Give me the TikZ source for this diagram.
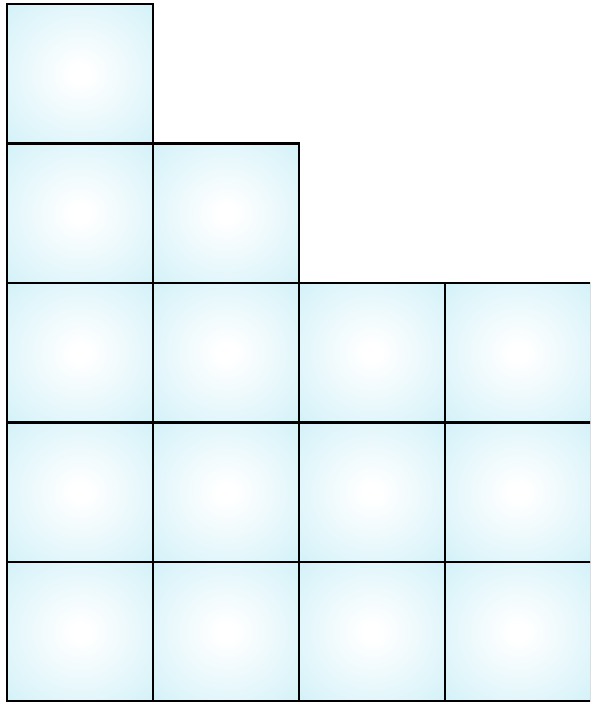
\documentclass[tikz,border=0pt]{standalone}
\definecolor{edgeblue}{RGB}{194,236,246}
\pgfdeclareradialshading{cellshade}{\pgfpoint{0bp}{0bp}}{color(0bp)=(white); color(3bp)=(white); color(48bp)=(edgeblue); color(80bp)=(edgeblue)}
\begin{document}
\begin{tikzpicture}[x=1pt,y=-1pt,
  cell/.style={draw=black, line width=2.3pt, inner sep=0pt, outer sep=0pt,
    minimum width=146pt, minimum height=139.5pt, anchor=north west,
    shading=cellshade}]
\useasboundingbox (0,0) rectangle (590,702);
\clip (0,0) rectangle (590,702);
\foreach \r/\n in {0/1,1/2,2/4,3/4,4/4}{
  \foreach \c in {1,...,\n}{
    \pgfmathsetmacro{\xx}{7+146*(\c-1)}
    \pgfmathsetmacro{\yy}{4+139.5*\r}
    \node[cell] (c\r\c) at (\xx,\yy) {};
  }
}
\end{tikzpicture}
\end{document}
